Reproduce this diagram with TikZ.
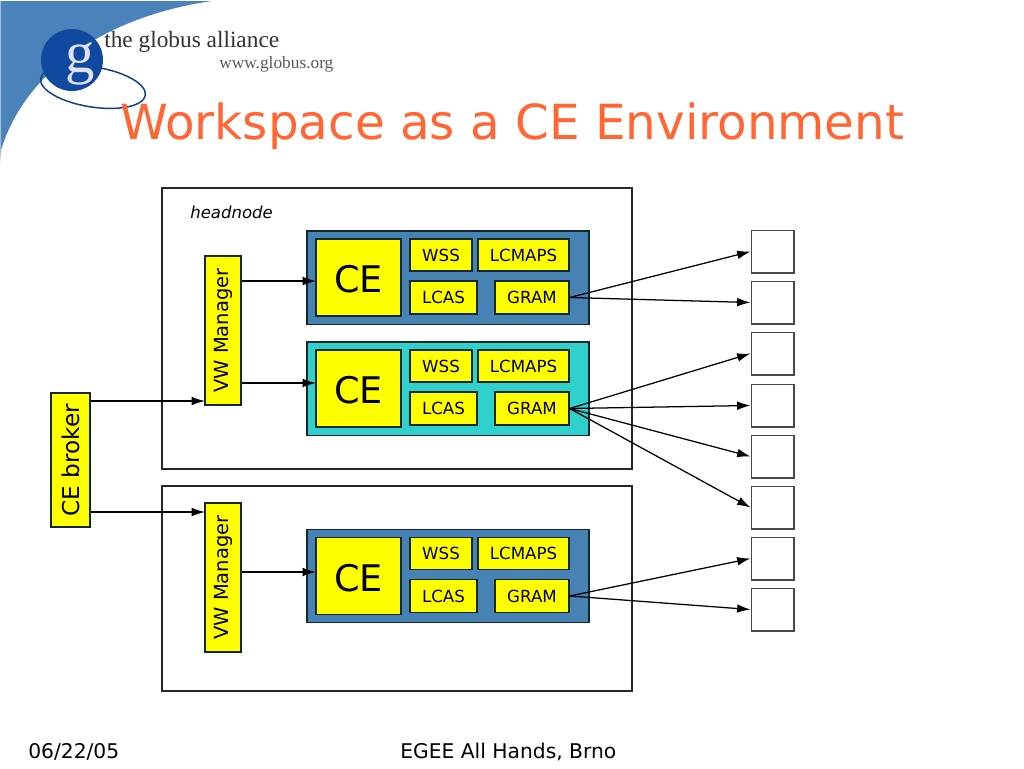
\documentclass[tikz,border=0pt]{standalone}
\usepackage{fontspec}
\setmainfont{DejaVu Sans}
\newfontfamily\logoserif{Liberation Serif}
\usetikzlibrary{arrows.meta}
\definecolor{swoosh}{HTML}{4A83BA}
\definecolor{ceblue}{HTML}{4682B4}
\definecolor{ceteal}{HTML}{30D0CC}
\definecolor{boxyellow}{HTML}{FFFF00}
\definecolor{titleorange}{HTML}{FF6633}
\definecolor{globeblue}{HTML}{0F4AA0}
\definecolor{inkdark}{HTML}{14282A}
\definecolor{lineink}{HTML}{262626}
\newcommand{\fs}[1]{\fontsize{#1}{#1}\selectfont}
\tikzset{
  frame/.style={draw=lineink,line width=1pt,fill=white,rectangle,inner sep=0pt},
  tray/.style={draw=inkdark,line width=1pt,rectangle,inner sep=0pt},
  ybox/.style={draw=inkdark,line width=1pt,fill=boxyellow,rectangle,inner sep=0pt,text=black},
  small/.style={ybox,font=\fs{12.5}},
  cebox/.style={ybox,font=\fs{27.5}},
  vbox/.style={ybox,font=\fs{14.6},rotate=90},
  brokerbox/.style={ybox,font=\fs{17.4},rotate=90},
  sq/.style={draw=lineink!85,line width=1pt,fill=white,rectangle,inner sep=0pt,minimum width=32pt,minimum height=32pt},
  link/.style={draw=black,line width=0.95pt,-{Latex[length=10pt,width=6.5pt]}},
  foot/.style={font=\fs{15.2},text=black,inner sep=0pt}
}
\newcommand{\ceblock}[3]{% suffix, y offset, fill
  \node[tray,fill=#3,minimum width=211.5pt,minimum height=70pt] (tray#1) at (448,277.5+#2) {};
  \node[cebox,minimum width=63.75pt,minimum height=57.75pt] (ce#1) at (358.5,277.5+#2) {\raisebox{-1.5pt}[0.73em][0pt]{CE}};
  \node[small,minimum width=46.5pt,minimum height=24pt] (wss#1) at (441,255+#2) {WSS};
  \node[small,minimum width=68.25pt,minimum height=24pt] (lcmaps#1) at (523.5,255+#2) {LCMAPS};
  \node[small,minimum width=50.25pt,minimum height=24.75pt] (lcas#1) at (443.5,297.5+#2) {LCAS};
  \node[small,minimum width=55.5pt,minimum height=24.75pt] (gram#1) at (532,297.5+#2) {GRAM};
}
\begin{document}
\begin{tikzpicture}[x=0.75pt,y=-0.75pt]
\useasboundingbox (0,0) rectangle (1024,768);
% logo swoosh
\fill[swoosh] (1,1) -- (212,1) .. controls (120,14) and (28,62) .. (1,150) -- cycle;
\fill[swoosh!55] (1,150) -- (0,165) -- (0,1) -- (1,1) -- cycle;
\draw[globeblue!85!black,line width=1.1pt] (93,87) ellipse [x radius=53,y radius=20,rotate=-9];
\node[circle,fill=globeblue,minimum size=46.5pt,inner sep=0pt] (globe) at (72,60) {};
\node[text=white!88!blue,font={\logoserif\fs{44}},inner sep=0pt] (gletter) at (80,64) {g};
\node[anchor=base west,inner sep=0pt,text=black!80,font={\logoserif\fs{17.5}}] (alliance) at (104,47) {the globus alliance};
\node[anchor=base west,inner sep=0pt,text=black!65,font={\logoserif\fs{13}}] (site) at (219,68) {www.globus.org};
% title
\node[anchor=base west,inner sep=0pt,text=titleorange,font=\fs{36.3}] (title) at (120,139) {Workspace as a CE Environment};
% frames
\node[frame,minimum width=352.5pt,minimum height=210.75pt] (head) at (397,328.5) {};
\node[frame,minimum width=352.5pt,minimum height=153.75pt] (node2) at (397,588.5) {};
\node[anchor=west,inner sep=0pt,font=\itshape\fs{12.4}] (headlabel) at (190,212) {headnode};
% blocks
\ceblock{a}{0}{ceblue}
\ceblock{b}{111}{ceteal}
\ceblock{c}{298.5}{ceblue}
% managers and broker
\node[vbox,minimum width=111.75pt,minimum height=27pt] (vw1) at (223,330.5) {VW Manager};
\node[vbox,minimum width=111.75pt,minimum height=27pt] (vw2) at (223,577.5) {VW Manager};
\node[brokerbox,minimum width=100.5pt,minimum height=29.25pt] (broker) at (70.5,460) {CE broker};
% right-hand squares
\node[sq] (s1) at (772.5,251.5) {};
\node[sq] (s2) at (772.5,302.5) {};
\node[sq] (s3) at (772.5,353.5) {};
\node[sq] (s4) at (772.5,405.5) {};
\node[sq] (s5) at (772.5,456.5) {};
\node[sq] (s6) at (772.5,507.5) {};
\node[sq] (s7) at (772.5,558.5) {};
\node[sq] (s8) at (772.5,609.5) {};
% entry points
\coordinate (ina) at (316,281);
\coordinate (inb) at (316,383);
\coordinate (inc) at (316,572);
\coordinate (bra) at (205,401);
\coordinate (brc) at (205,512);
% connectors
\draw[link] (vw1.south |- ina) -- (ina);
\draw[link] (vw1.south |- inb) -- (inb);
\draw[link] (vw2.south |- inc) -- (inc);
\draw[link] (broker.south |- bra) -- (bra);
\draw[link] (broker.south |- brc) -- (brc);
\draw[link] (grama.east) -- (s1.west);
\draw[link] (grama.east) -- (s2.west);
\draw[link] (gramb.east) -- (s3.west);
\draw[link] (gramb.east) -- (s4.west);
\draw[link] (gramb.east) -- (s5.west);
\draw[link] (gramb.east) -- (s6.west);
\draw[link] (gramc.east) -- (s7.west);
\draw[link] (gramc.east) -- (s8.west);
% footer
\node[foot,anchor=west] (date) at (28,752) {06/22/05};
\node[foot,anchor=west] (event) at (400,752) {EGEE All Hands, Brno};
\end{tikzpicture}
\end{document}
